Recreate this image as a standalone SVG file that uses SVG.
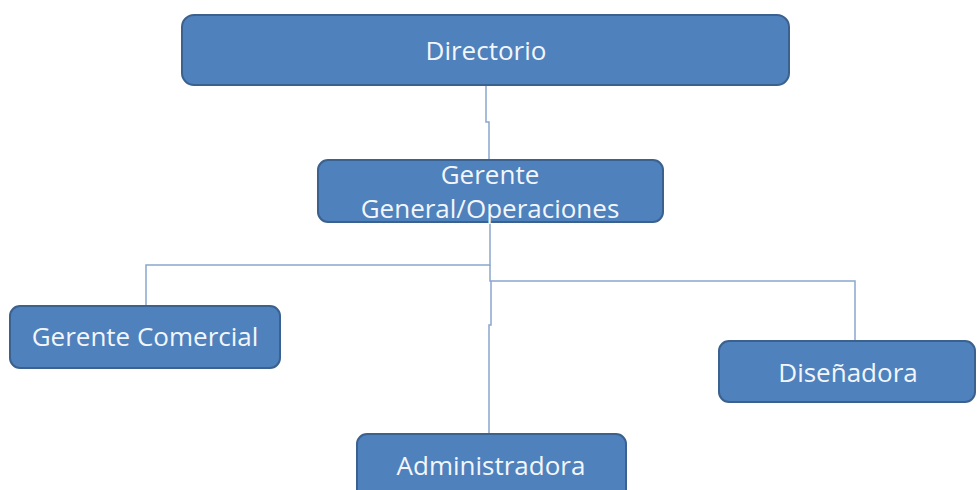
<svg xmlns="http://www.w3.org/2000/svg" width="977" height="490" viewBox="0 0 977 490">
<defs>
<style>
.box{fill:#4F81BD;stroke:#3B618F;stroke-width:2}
.t{font-family:"Open Sans","Liberation Sans",sans-serif;font-size:26px;fill:#F2F6FB;text-anchor:middle}
.c{fill:none;stroke:#8AA6CC;stroke-width:1.5}
</style>
</defs>
<rect width="977" height="490" fill="#FFFFFF"/>
<g id="connectors">
<path class="c" d="M486 85 V122 H489 V160"/>
<path class="c" d="M490 222 V265 H146 V306"/>
<path class="c" d="M490 265 V281 H855 V341"/>
<path class="c" d="M491 281 V325 H489 V434"/>
</g>
<g id="directorio">
<rect class="box" x="182" y="15" width="607" height="70" rx="12"/>
<text class="t" x="486" y="60">Directorio</text>
</g>
<g id="gerente-general">
<rect class="box" x="318" y="160" width="345" height="62" rx="10"/>
<text class="t" x="490" y="184">Gerente</text>
<text class="t" x="490" y="218">General/Operaciones</text>
</g>
<g id="gerente-comercial">
<rect class="box" x="10" y="306" width="270" height="62" rx="10"/>
<text class="t" x="145" y="346">Gerente Comercial</text>
</g>
<g id="disenadora">
<rect class="box" x="719" y="341" width="256" height="61" rx="10"/>
<text class="t" x="848" y="382">Diseñadora</text>
</g>
<g id="administradora">
<rect class="box" x="357" y="434" width="269" height="70" rx="10"/>
<text class="t" x="491" y="475">Administradora</text>
</g>
</svg>
